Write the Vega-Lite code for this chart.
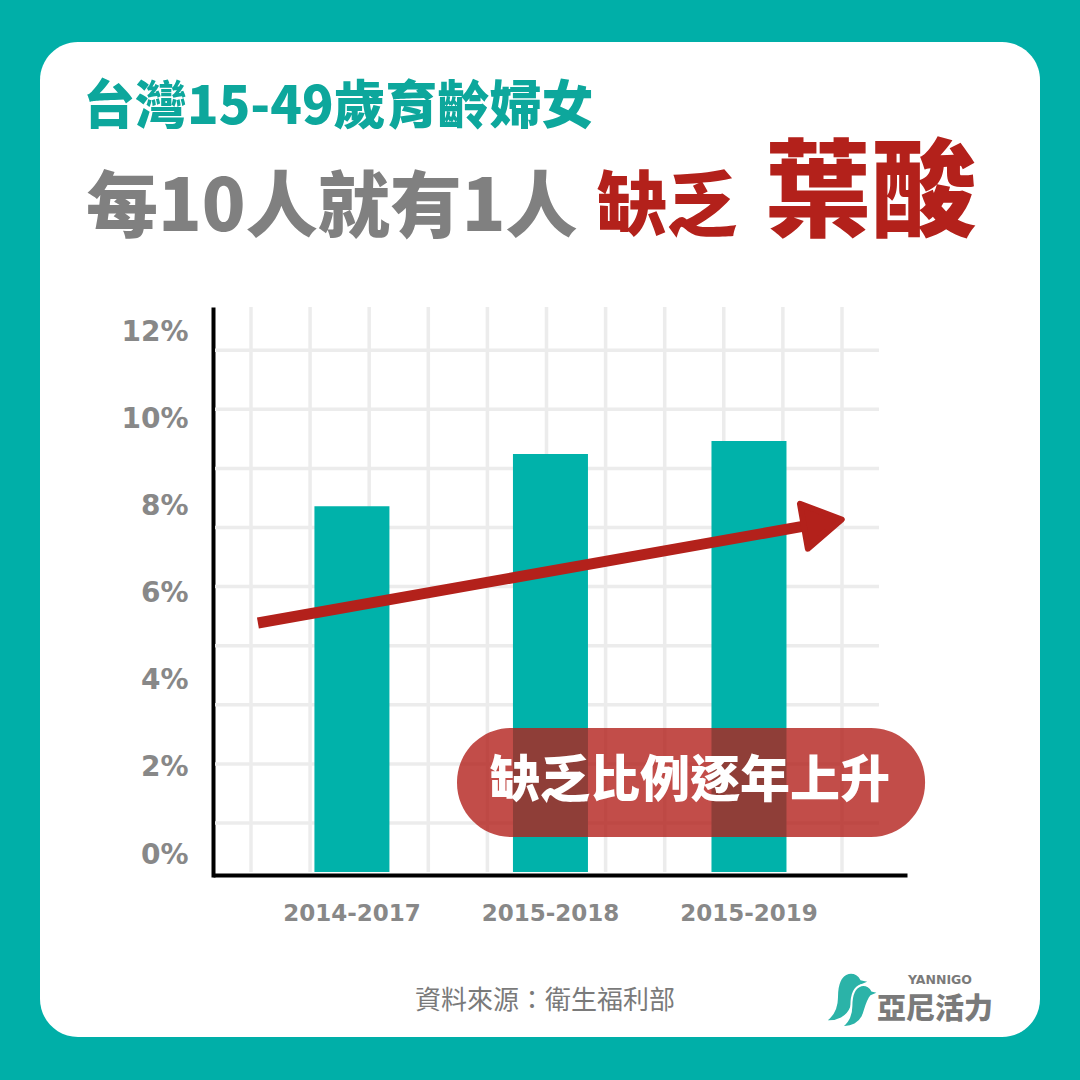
{
  "$schema": "https://vega.github.io/schema/vega-lite/v6.json",
  "width": 1000,
  "height": 995,
  "autosize": {"type": "none"},
  "padding": {"left": 40, "top": 42, "right": 40, "bottom": 43},
  "background": "#00AFA8",
  "view": {"fill": "#FFFFFF", "stroke": null, "cornerRadius": 38},
  "config": {"font": "Noto Sans CJK TC"},
  "datasets": {
    "folate": [
      {"period": "2014-2017", "rate": 8.4},
      {"period": "2015-2018", "rate": 9.6},
      {"period": "2015-2019", "rate": 9.9}
    ],
    "gridCols": [
      {"gx": 0}, {"gx": 1}, {"gx": 2}, {"gx": 3}, {"gx": 4}, {"gx": 5},
      {"gx": 6}, {"gx": 7}, {"gx": 8}, {"gx": 9}, {"gx": 10}
    ],
    "gridRows": [
      {"gy": 0}, {"gy": 1}, {"gy": 2}, {"gy": 3}, {"gy": 4},
      {"gy": 5}, {"gy": 6}, {"gy": 7}, {"gy": 8}
    ],
    "trend": [
      {"pos": -0.474, "share": 5.72},
      {"pos": 2.348, "share": 8.0}
    ]
  },
  "layer": [
    {
      "layer": [
        {
          "data": {"name": "gridCols"},
          "mark": {"type": "rule", "stroke": "#ECECEC", "strokeWidth": 3.5},
          "encoding": {
            "x": {"field": "gx", "type": "quantitative", "scale": {"domain": [0, 10], "range": [211, 802], "nice": false, "zero": false}, "axis": null},
            "y": {"datum": 8.731, "type": "quantitative", "scale": {"domain": [0, 8], "range": [781, 308.2], "nice": false, "zero": false}, "axis": null},
            "y2": {"datum": -0.829}
          }
        },
        {
          "data": {"name": "gridRows"},
          "mark": {"type": "rule", "stroke": "#ECECEC", "strokeWidth": 3.5},
          "encoding": {
            "y": {"field": "gy", "type": "quantitative", "axis": null},
            "x": {"datum": -0.609, "type": "quantitative", "axis": null},
            "x2": {"datum": 10.626}
          }
        }
      ]
    },
    {
      "data": {"name": "folate"},
      "mark": {"type": "bar", "color": "#00B2AA"},
      "encoding": {
        "x": {
          "field": "period",
          "type": "nominal",
          "sort": null,
          "scale": {"type": "band", "range": [173, 867], "paddingInner": 0.6222, "paddingOuter": 0.559, "align": 0.457},
          "axis": {
            "orient": "bottom",
            "offset": -162,
            "title": null,
            "grid": false,
            "ticks": false,
            "tickSize": 0,
            "domainColor": "#000000",
            "domainWidth": 4,
            "labelAngle": 0,
            "labelFont": "DejaVu Sans",
            "labelFontWeight": "bold",
            "labelFontSize": 23,
            "labelColor": "#888888",
            "labelPadding": 45,
            "labelBaseline": "alphabetic"
          }
        },
        "y": {
          "field": "rate",
          "type": "quantitative",
          "scale": {"domain": [-0.1148, 12.977], "range": [835, 265], "nice": false, "zero": false},
          "axis": {
            "orient": "left",
            "offset": -173,
            "title": null,
            "grid": false,
            "ticks": false,
            "tickSize": 0,
            "values": [0, 2, 4, 6, 8, 10, 12],
            "labelExpr": "datum.value + '%'",
            "domainColor": "#000000",
            "domainWidth": 4,
            "labelFont": "DejaVu Sans",
            "labelFontWeight": "bold",
            "labelFontSize": 28,
            "labelColor": "#888888",
            "labelPadding": 25,
            "labelOffset": -17,
            "labelBaseline": "middle"
          }
        },
        "y2": {"datum": 0}
      }
    },
    {
      "layer": [
        {
          "data": {"name": "trend"},
          "mark": {"type": "line", "stroke": "#B3211B", "strokeWidth": 11, "strokeCap": "butt"},
          "encoding": {
            "x": {"field": "pos", "type": "quantitative", "scale": {"domain": [0, 2], "range": [312, 709], "nice": false, "zero": false}, "axis": null},
            "y": {"field": "share", "type": "quantitative", "scale": {"domain": [-0.1148, 12.977], "range": [835, 265], "nice": false, "zero": false}, "axis": null}
          }
        },
        {
          "data": {"name": "trend"},
          "transform": [{"filter": "datum.pos > 2"}],
          "mark": {
            "type": "point",
            "shape": "M 1 0 L -0.6 -0.95 L -0.6 0.95 Z",
            "size": 2304,
            "angle": -10,
            "filled": true,
            "fill": "#B3211B",
            "stroke": "#B3211B",
            "strokeWidth": 6,
            "strokeJoin": "round",
            "opacity": 1
          },
          "encoding": {
            "x": {"field": "pos", "type": "quantitative"},
            "y": {"field": "share", "type": "quantitative"}
          }
        },
        {
          "data": {"values": [{"note": "缺乏比例逐年上升"}]},
          "mark": {"type": "rect", "fill": "#B3211B", "opacity": 0.8, "cornerRadius": 54},
          "encoding": {
            "x": {"datum": 0.529, "type": "quantitative"},
            "x2": {"datum": 2.887},
            "y": {"datum": 3.307, "type": "quantitative"},
            "y2": {"datum": 0.804}
          }
        },
        {
          "data": {"values": [{"note": "缺乏比例逐年上升"}]},
          "mark": {"type": "text", "color": "#FFFFFF", "fontSize": 50, "fontWeight": 900, "align": "center", "baseline": "middle"},
          "encoding": {
            "x": {"datum": 1.703, "type": "quantitative"},
            "y": {"datum": 2.067, "type": "quantitative"},
            "text": {"field": "note"}
          }
        }
      ]
    },
    {
      "layer": [
        {
          "data": {"values": [{"t": "台灣15-49歲育齡婦女"}]},
          "mark": {"type": "text", "color": "#0DA79C", "fontSize": 52, "fontWeight": 900, "align": "left", "baseline": "alphabetic"},
          "encoding": {"x": {"value": 43}, "y": {"value": 82}, "text": {"field": "t"}}
        },
        {
          "data": {"values": [{"t": "每10人就有1人"}]},
          "mark": {"type": "text", "color": "#808080", "fontSize": 72, "fontWeight": 900, "align": "left", "baseline": "alphabetic"},
          "encoding": {"x": {"value": 46}, "y": {"value": 189}, "text": {"field": "t"}}
        },
        {
          "data": {"values": [{"t": "缺乏"}]},
          "mark": {"type": "text", "color": "#B3211B", "fontSize": 70, "fontWeight": 900, "align": "left", "baseline": "alphabetic"},
          "encoding": {"x": {"value": 557}, "y": {"value": 188}, "text": {"field": "t"}}
        },
        {
          "data": {"values": [{"t": "葉酸"}]},
          "mark": {"type": "text", "color": "#B3211B", "fontSize": 106, "fontWeight": 900, "align": "left", "baseline": "alphabetic"},
          "encoding": {"x": {"value": 725}, "y": {"value": 186}, "text": {"field": "t"}}
        },
        {
          "data": {"values": [{"t": "資料來源：衛生福利部"}]},
          "mark": {"type": "text", "color": "#7A7A7A", "fontSize": 26, "fontWeight": 400, "align": "center", "baseline": "alphabetic"},
          "encoding": {"x": {"value": 505}, "y": {"value": 967}, "text": {"field": "t"}}
        },
        {
          "data": {"values": [{"brand": "亞尼活力"}]},
          "mark": {"type": "point", "shape": "M 0.1 -0.95 C 0.35 -1 0.55 -0.85 0.6 -0.7 L 0.95 -0.62 L 0.55 -0.45 C 0.4 -0.3 0.3 0.1 0.2 0.4 C 0.05 0.8 -0.35 1 -0.8 0.95 C -0.45 0.7 -0.35 0.35 -0.35 0 C -0.35 -0.45 -0.25 -0.85 0.1 -0.95 Z", "size": 2500, "filled": true, "fill": "#2BB3A8", "stroke": "#FFFFFF", "strokeWidth": 1.5, "opacity": 1},
          "encoding": {"x": {"value": 806}, "y": {"value": 955}}
        },
        {
          "data": {"values": [{"brand": "亞尼活力"}]},
          "mark": {"type": "point", "shape": "M 0.1 -0.95 C 0.35 -1 0.55 -0.85 0.6 -0.7 L 0.95 -0.62 L 0.55 -0.45 C 0.4 -0.3 0.3 0.1 0.2 0.4 C 0.05 0.8 -0.35 1 -0.8 0.95 C -0.45 0.7 -0.35 0.35 -0.35 0 C -0.35 -0.45 -0.25 -0.85 0.1 -0.95 Z", "size": 1900, "filled": true, "fill": "#2BB3A8", "stroke": "#FFFFFF", "strokeWidth": 2, "opacity": 1},
          "encoding": {"x": {"value": 819}, "y": {"value": 964}}
        },
        {
          "data": {"values": [{"brand": "YANNIGO"}]},
          "mark": {"type": "text", "color": "#7A7A7A", "fontSize": 12.5, "fontWeight": "bold", "font": "DejaVu Sans", "align": "center", "baseline": "middle"},
          "encoding": {"x": {"value": 900}, "y": {"value": 938}, "text": {"field": "brand"}}
        },
        {
          "data": {"values": [{"brand": "亞尼活力"}]},
          "mark": {"type": "text", "color": "#7A7A7A", "fontSize": 29, "fontWeight": 900, "align": "left", "baseline": "alphabetic"},
          "encoding": {"x": {"value": 837}, "y": {"value": 977}, "text": {"field": "brand"}}
        }
      ]
    }
  ],
  "resolve": {"scale": {"x": "independent", "y": "independent"}}
}
